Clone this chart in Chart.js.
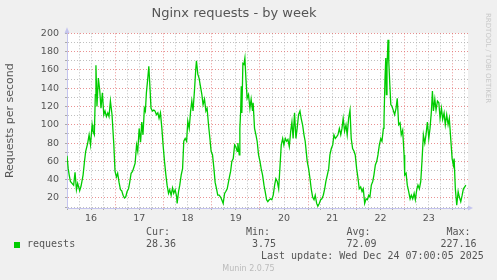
<!DOCTYPE html>
<html>
<head>
<meta charset="utf-8">
<script src="https://cdn.jsdelivr.net/npm/chart.js@4.4.1/dist/chart.umd.min.js"></script>
<style>
  html, body { margin: 0; padding: 0; background: #f0f0f0; }
  canvas { display: block; }
</style>
</head>
<body>
<canvas id="myChart" width="497" height="280"></canvas>
<script>
// hours since Dec 16 00:00, and requests/s
const hours = [
  0, 0.6, 1.1, 1.7, 2.5, 3.3, 4.0, 4.7, 5.3, 6.3,
  7.0, 8.0, 8.7, 9.3, 10.3, 11.0, 11.7, 12.5, 12.9, 13.6,
  14.1, 14.4, 14.9, 15.6, 16.3, 16.9, 17.6, 18.3, 18.9, 19.6,
  20.3, 20.9, 21.6, 22.4, 23.3, 23.9, 24.6, 25.2, 25.9, 26.6,
  27.2, 27.9, 28.6, 29.2, 29.9, 30.6, 31.2, 31.9, 32.6, 33.2,
  33.9, 34.6, 35.2, 35.9, 36.6, 37.2, 37.8, 38.5, 39.0, 39.5,
  40.2, 40.7, 41.2, 41.8, 42.5, 43.2, 43.8, 44.5, 45.2, 45.8,
  46.5, 47.2, 47.8, 48.5, 49.2, 49.8, 50.5, 51.1, 51.8, 52.5,
  53.1, 53.8, 54.5, 54.8, 55.5, 56.1, 56.8, 57.5, 58.1, 58.8,
  59.5, 60.1, 60.8, 61.5, 62.1, 62.7, 63.4, 64.1, 64.4, 65.1,
  65.7, 66.4, 67.1, 67.7, 68.4, 69.1, 69.7, 70.4, 71.1, 71.7,
  72.4, 73.1, 73.7, 74.4, 75.0, 75.7, 76.4, 77.0, 77.7, 78.4,
  79.0, 79.7, 80.4, 81.0, 81.4, 82.0, 82.7, 83.4, 84.0, 84.7,
  85.0, 85.7, 86.0, 86.4, 86.7, 87.0, 87.5, 88.0, 88.5, 89.0,
  89.6, 90.3, 91.0, 91.6, 92.3, 92.6, 93.3, 94.0, 94.6, 95.3,
  96.0, 96.6, 97.3, 98.0, 98.6, 99.3, 99.9, 100.6, 101.3, 101.9,
  102.6, 103.3, 103.9, 104.6, 105.3, 105.9, 106.6, 107.3, 107.9, 108.6,
  109.3, 109.9, 110.6, 111.3, 111.9, 112.5, 113.2, 113.9, 114.5, 115.2,
  115.9, 116.5, 117.2, 117.9, 118.5, 119.5, 120.2, 120.9, 121.5, 122.2,
  122.9, 123.5, 124.2, 124.8, 125.5, 126.2, 126.8, 127.5, 128.2, 128.8,
  129.5, 130.2, 130.8, 131.5, 132.2, 132.8, 133.5, 134.2, 134.8, 135.5,
  136.2, 136.8, 137.4, 138.1, 138.8, 139.4, 140.1, 140.8, 141.4, 142.1,
  142.8, 143.4, 144.1, 144.8, 145.4, 146.1, 146.8, 147.4, 148.1, 148.8,
  149.4, 150.1, 150.7, 151.4, 152.1, 152.7, 153.4, 154.1, 154.7, 155.4,
  156.1, 156.7, 157.4, 157.7, 158.2, 158.6, 158.9, 159.2, 159.7, 160.1,
  160.6, 161.1, 161.7, 162.3, 163.0, 163.7, 164.3, 165.0, 165.7, 166.3,
  167.0, 167.7, 168.0, 168.7, 169.3, 170.0, 170.7, 171.3, 172.0, 172.7,
  173.3, 174.0, 174.6, 175.3, 176.0, 176.6, 177.3, 178.0, 178.6, 179.3,
  180.0, 180.6, 181.3, 181.8, 182.3, 183.0, 183.6, 184.3, 185.0, 185.6,
  186.3, 186.9, 187.6, 188.2, 188.9, 189.6, 190.2, 190.9, 191.6, 192.2,
  192.6, 193.2, 193.9, 194.6, 195.2, 195.9, 196.6, 197.2, 197.9, 198.4
];
const requests = [
  66, 52, 45, 38, 36, 34, 48, 29, 36, 28,
  33, 45, 60, 71, 80, 89, 78, 100, 93, 89,
  133, 165, 120, 151, 137, 118, 135, 111, 115, 109,
  113, 109, 126, 111, 78, 49, 43, 47, 37, 29,
  28, 23, 20, 21, 27, 30, 37, 47, 49, 53,
  58, 78, 71, 96, 81, 103, 89, 118, 115, 135,
  151, 164, 144, 118, 115, 116, 115, 111, 113, 107,
  113, 96, 78, 60, 45, 34, 25, 29, 23, 31,
  25, 29, 22, 14, 27, 34, 45, 52, 82, 85,
  82, 104, 96, 115, 126, 115, 137, 162, 170, 155,
  151, 142, 133, 122, 128, 115, 118, 100, 85, 71,
  67, 52, 37, 30, 23, 23, 21, 18, 14, 25,
  27, 30, 38, 45, 49, 60, 63, 78, 76, 71,
  80, 67, 96, 115, 142, 113, 167, 166, 173, 151,
  129, 133, 118, 128, 115, 124, 96, 89, 82, 67,
  60, 52, 45, 34, 27, 18, 16, 18, 19, 18,
  23, 34, 41, 38, 30, 52, 78, 85, 78, 85,
  82, 84, 76, 93, 103, 85, 113, 85, 96, 111,
  115, 107, 100, 89, 82, 60, 52, 41, 30, 21,
  18, 23, 14, 11, 14, 18, 19, 23, 30, 38,
  45, 52, 67, 74, 78, 89, 85, 87, 89, 96,
  89, 96, 107, 93, 100, 89, 107, 116, 85, 74,
  71, 67, 52, 41, 30, 32, 27, 30, 14, 19,
  18, 23, 21, 34, 38, 45, 56, 60, 67, 78,
  85, 82, 96, 104, 150, 173, 133, 162, 193, 169,
  144, 122, 120, 116, 111, 118, 129, 100, 102, 89,
  94, 67, 45, 47, 34, 27, 19, 23, 19, 25,
  18, 29, 34, 30, 38, 60, 89, 80, 89, 103,
  85, 96, 115, 137, 115, 128, 116, 126, 124, 107,
  118, 106, 113, 100, 111, 100, 107, 85, 63, 56,
  63, 30, 12, 27, 21, 16, 23, 30, 32, 34
];

const dayLabels = ['16', '17', '18', '19', '20', '21', '22', '23'];
const yTickValues = [20, 40, 60, 80, 100, 120, 140, 160, 180, 200];

const legendName = 'requests';
const statHeads = ['Cur:', 'Min:', 'Avg:', 'Max:'];
const statValues = ['28.36', '3.75', '72.09', '227.16'];
const lastUpdate = 'Last update: Wed Dec 24 07:00:05 2025';

const GREEN = '#00cc00';
const MAJOR = 'rgba(225, 110, 110, 0.75)';
const MINOR = 'rgba(175, 175, 175, 0.8)';
const AXIS = '#c4c4ee';

Chart.defaults.font.family = '"DejaVu Sans", sans-serif';

const points = hours.map((h, i) => ({ x: h, y: requests[i] }));

const muninDecor = {
  id: 'muninDecor',
  beforeDraw(chart) {
    const { ctx, chartArea: a } = chart;
    ctx.save();
    ctx.fillStyle = '#f0f0f0';
    ctx.fillRect(0, 0, chart.width, chart.height);
    ctx.fillStyle = '#ffffff';
    ctx.fillRect(a.left, a.top, a.right - a.left, a.bottom - a.top);
    ctx.restore();
  },
  afterDraw(chart) {
    const { ctx, chartArea: a } = chart;
    ctx.save();
    // axis arrows
    ctx.fillStyle = AXIS;
    ctx.beginPath();
    ctx.moveTo(a.left - 2.5, a.top);
    ctx.lineTo(a.left + 2.5, a.top);
    ctx.lineTo(a.left, a.top - 6);
    ctx.fill();
    ctx.beginPath();
    ctx.moveTo(a.right, a.bottom - 2.5);
    ctx.lineTo(a.right, a.bottom + 2.5);
    ctx.lineTo(a.right + 5, a.bottom);
    ctx.fill();

    // rrdtool watermark
    ctx.translate(488, 13);
    ctx.rotate(Math.PI / 2);
    ctx.fillStyle = '#c8c8c8';
    ctx.font = '7px "DejaVu Sans"';
    ctx.textAlign = 'left';
    ctx.textBaseline = 'middle';
    ctx.fillText('RRDTOOL / TOBI OETIKER', 0, 0);
    ctx.setTransform(1, 0, 0, 1, 0, 0);

    // legend block
    ctx.fillStyle = GREEN;
    ctx.fillRect(14, 242, 6, 6);
    ctx.fillStyle = '#555';
    ctx.font = '10px "DejaVu Sans Mono"';
    ctx.textBaseline = 'middle';
    ctx.fillText(legendName, 27, 244.5);
    const headX = [146, 246, 346.5, 446.5];
    const valX = [146, 252, 346.5, 440.5];
    statHeads.forEach((t, i) => ctx.fillText(t, headX[i], 232.5));
    statValues.forEach((t, i) => ctx.fillText(t, valX[i], 244.5));
    ctx.fillText(lastUpdate, 261, 256.5);

    ctx.fillStyle = '#bbbbbb';
    ctx.font = '8px "DejaVu Sans"';
    ctx.textAlign = 'center';
    ctx.fillText('Munin 2.0.75', 248.5, 269);
    ctx.restore();
  }
};

new Chart(document.getElementById('myChart').getContext('2d'), {
  type: 'line',
  data: {
    datasets: [{
      label: legendName,
      data: points,
      borderColor: GREEN,
      borderWidth: 1.3,
      pointRadius: 0,
      tension: 0,
      fill: false
    }]
  },
  options: {
    responsive: false,
    animation: false,
    events: [],
    layout: { padding: { left: 0, right: 29, top: 0, bottom: 0 } },
    plugins: {
      legend: { display: false },
      tooltip: { enabled: false },
      title: {
        display: true,
        text: 'Nginx requests - by week',
        color: '#555',
        font: { size: 13, weight: 'normal' },
        padding: { top: 6, bottom: 11.7 }
      }
    },
    scales: {
      x: {
        type: 'linear',
        min: 0,
        max: 199.5,
        afterBuildTicks: (scale) => {
          const t = [];
          for (let v = 0; v <= 198; v += 6) t.push({ value: v });
          scale.ticks = t;
        },
        afterFit: (scale) => { scale.height = 72; },
        ticks: {
          autoSkip: false,
          maxRotation: 0,
          padding: 3,
          color: '#555',
          font: { size: 9.5 },
          callback: (v) => (v % 24 === 12 ? dayLabels[(v - 12) / 24] : '')
        },
        grid: {
          color: (c) => (c.tick && c.tick.value % 24 === 0 ? MAJOR : MINOR),
          tickColor: '#aaa',
          tickLength: 2,
          lineWidth: 1
        },
        border: { color: AXIS, dash: [1, 2] }
      },
      y: {
        min: 9,
        max: 200,
        afterBuildTicks: (scale) => {
          const t = [];
          for (let v = 10; v <= 200; v += 10) t.push({ value: v });
          scale.ticks = t;
        },
        afterFit: (scale) => { scale.width = 67; },
        ticks: {
          autoSkip: false,
          padding: 6,
          color: '#555',
          font: { size: 9.5 },
          callback: (v) => (yTickValues.includes(v) ? String(v) : '')
        },
        grid: {
          color: (c) => (c.tick && c.tick.value % 20 === 0 ? MAJOR : MINOR),
          tickColor: '#aaa',
          tickLength: 2,
          lineWidth: 1
        },
        border: { color: AXIS, dash: [1, 2] },
        title: {
          display: true,
          text: 'Requests per second',
          color: '#555',
          font: { size: 11 },
          padding: { top: 4, bottom: 0 }
        }
      }
    }
  },
  plugins: [muninDecor]
});
</script>
</body>
</html>
